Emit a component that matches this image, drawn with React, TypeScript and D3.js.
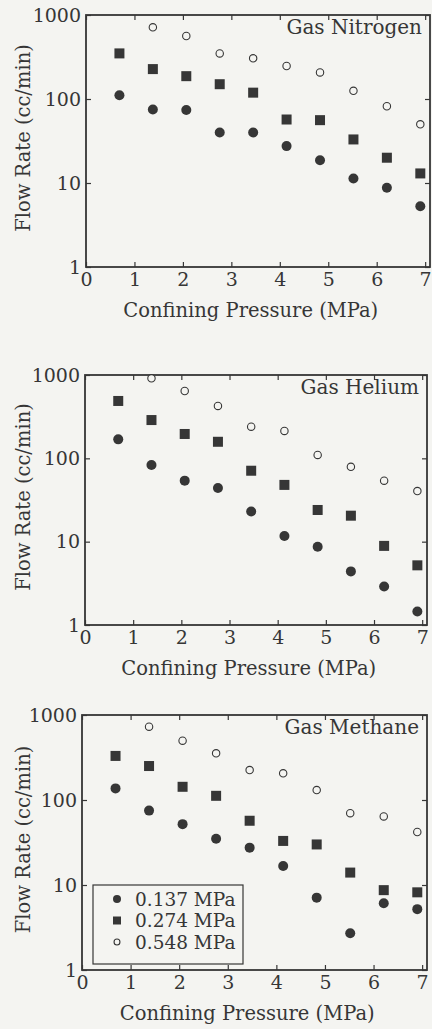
import React, { useEffect, useRef } from "react";
import * as d3 from "d3";

// confining pressure steps (100 psi increments, in MPa)
const pressures = [0.69, 1.38, 2.07, 2.76, 3.45, 4.14, 4.83, 5.52, 6.21, 6.9];
const pressureTicks = [0, 1, 2, 3, 4, 5, 6, 7];
const flowTicks = [1, 10, 100, 1000];
const legendLabels = ["0.137 MPa", "0.274 MPa", "0.548 MPa"];

// flow rate (cc/min) per inlet pressure
const nitrogen137 = [111, 75, 74, 40, 40, 27.5, 18.7, 11.3, 8.8, 5.3];
const nitrogen274 = [349, 227, 187, 150, 119, 57, 56, 33, 20, 13];
const nitrogen548 = [null, 713, 562, 349, 305, 247, 207, 125, 82, 50];

const helium137 = [169, 83, 54, 44, 23, 11.7, 8.7, 4.4, 2.9, 1.45];
const helium274 = [488, 288, 196, 158, 71, 48, 24, 20.5, 8.9, 5.2];
const helium548 = [null, 912, 643, 425, 240, 213, 110, 79, 54, 40.5];

const methane137 = [137, 75, 52, 35, 27.5, 16.7, 7.1, 2.7, 6.1, 5.2];
const methane274 = [330, 251, 143, 112, 57, 33, 30, 14, 8.7, 8.2];
const methane548 = [null, 729, 499, 354, 225, 206, 131, 70, 64, 42];

const W = 432;
const H = 1029;
const FONT = "'DejaVu Serif', serif";
const INK = "#363636";
const PAPER = "#f4f4f1";

const panels = [
  { gas: "Gas Nitrogen", series: [nitrogen137, nitrogen274, nitrogen548], left: 86, right: 430, top: 15, bottom: 267, xMax: 7.1, legend: false },
  { gas: "Gas Helium", series: [helium137, helium274, helium548], left: 85, right: 427, top: 375, bottom: 625, xMax: 7.1, legend: false },
  { gas: "Gas Methane", series: [methane137, methane274, methane548], left: 82, right: 427, top: 715, bottom: 970, xMax: 7.1, legend: true },
];

// draw one marker of the given series index at (cx, cy)
const drawMarker = (g, kind, cx, cy, scale = 1) => {
  if (kind === 0) {
    g.append("circle").attr("cx", cx).attr("cy", cy).attr("r", 5 * scale).attr("fill", INK);
  } else if (kind === 1) {
    const s = 10 * scale;
    g.append("rect").attr("x", cx - s / 2).attr("y", cy - s / 2).attr("width", s).attr("height", s).attr("fill", INK);
  } else {
    g.append("circle").attr("cx", cx).attr("cy", cy).attr("r", 3.7 * scale)
      .attr("fill", PAPER).attr("stroke", INK).attr("stroke-width", 1.1);
  }
};

const App = () => {
  const ref = useRef(null);

  useEffect(() => {
    const svg = d3.select(ref.current);
    svg.selectAll("*").remove();

    svg.append("rect").attr("width", W).attr("height", H).attr("fill", PAPER);

    panels.forEach((p) => {
      const x = d3.scaleLinear().domain([0, p.xMax]).range([p.left, p.right]);
      const y = d3.scaleLog().domain([1, 1000]).range([p.bottom, p.top]);
      const g = svg.append("g");

      // axes, ticks pointing inward on all four sides
      g.append("g")
        .attr("transform", `translate(0,${p.bottom})`)
        .call(d3.axisBottom(x).tickValues(pressureTicks).tickSizeInner(-5).tickSizeOuter(0).tickPadding(6).tickFormat(d3.format("d")));
      g.append("g")
        .attr("transform", `translate(0,${p.top})`)
        .call(d3.axisTop(x).tickValues(pressureTicks).tickSizeInner(-5).tickSizeOuter(0).tickFormat(() => ""));
      g.append("g")
        .attr("transform", `translate(${p.left},0)`)
        .call(d3.axisLeft(y).tickValues(flowTicks).tickSizeInner(-5).tickSizeOuter(0).tickPadding(5).tickFormat(d3.format("d")));
      g.append("g")
        .attr("transform", `translate(${p.right},0)`)
        .call(d3.axisRight(y).tickValues(flowTicks).tickSizeInner(-5).tickSizeOuter(0).tickFormat(() => ""));

      g.selectAll(".domain").remove();
      g.selectAll(".tick line").attr("stroke", INK).attr("stroke-width", 1.2);
      g.selectAll(".tick text").attr("fill", INK).attr("font-family", FONT).attr("font-size", 19);

      // frame
      g.append("rect")
        .attr("x", p.left).attr("y", p.top)
        .attr("width", p.right - p.left).attr("height", p.bottom - p.top)
        .attr("fill", "none").attr("stroke", INK).attr("stroke-width", 1.8);

      // points
      p.series.forEach((values, k) => {
        values.forEach((v, i) => {
          if (v == null) return;
          drawMarker(g, k, x(pressures[i]), y(v));
        });
      });

      // gas name
      g.append("text")
        .attr("x", p.right - 8).attr("y", p.top + 19)
        .attr("text-anchor", "end")
        .attr("font-family", FONT).attr("font-size", 20).attr("fill", INK)
        .text(p.gas);

      // axis titles
      g.append("text")
        .attr("x", x(3.4)).attr("y", p.bottom + 50)
        .attr("text-anchor", "middle")
        .attr("font-family", FONT).attr("font-size", 19.5).attr("fill", INK)
        .text("Confining Pressure (MPa)");
      g.append("text")
        .attr("transform", `translate(30,${(p.top + p.bottom) / 2 - 3}) rotate(-90)`)
        .attr("text-anchor", "middle")
        .attr("font-family", FONT).attr("font-size", 19.5).attr("fill", INK)
        .text("Flow Rate (cc/min)");

      if (p.legend) {
        const lx = p.left + 11;
        const ly = p.bottom - 85;
        g.append("rect")
          .attr("x", lx).attr("y", ly).attr("width", 150).attr("height", 79)
          .attr("fill", PAPER).attr("stroke", INK).attr("stroke-width", 1.2);
        legendLabels.forEach((label, k) => {
          const cy = ly + 14 + k * 21.5;
          drawMarker(g, k, lx + 24, cy, 0.8);
          g.append("text")
            .attr("x", lx + 42).attr("y", cy + 6.5)
            .attr("font-family", FONT).attr("font-size", 18.5).attr("fill", INK)
            .text(label);
        });
      }
    });
  }, []);

  return (
    <div>
      <svg ref={ref} width={W} height={H} style={{ position: "absolute", left: 0, top: 0 }}></svg>
    </div>
  );
};

export default App;
